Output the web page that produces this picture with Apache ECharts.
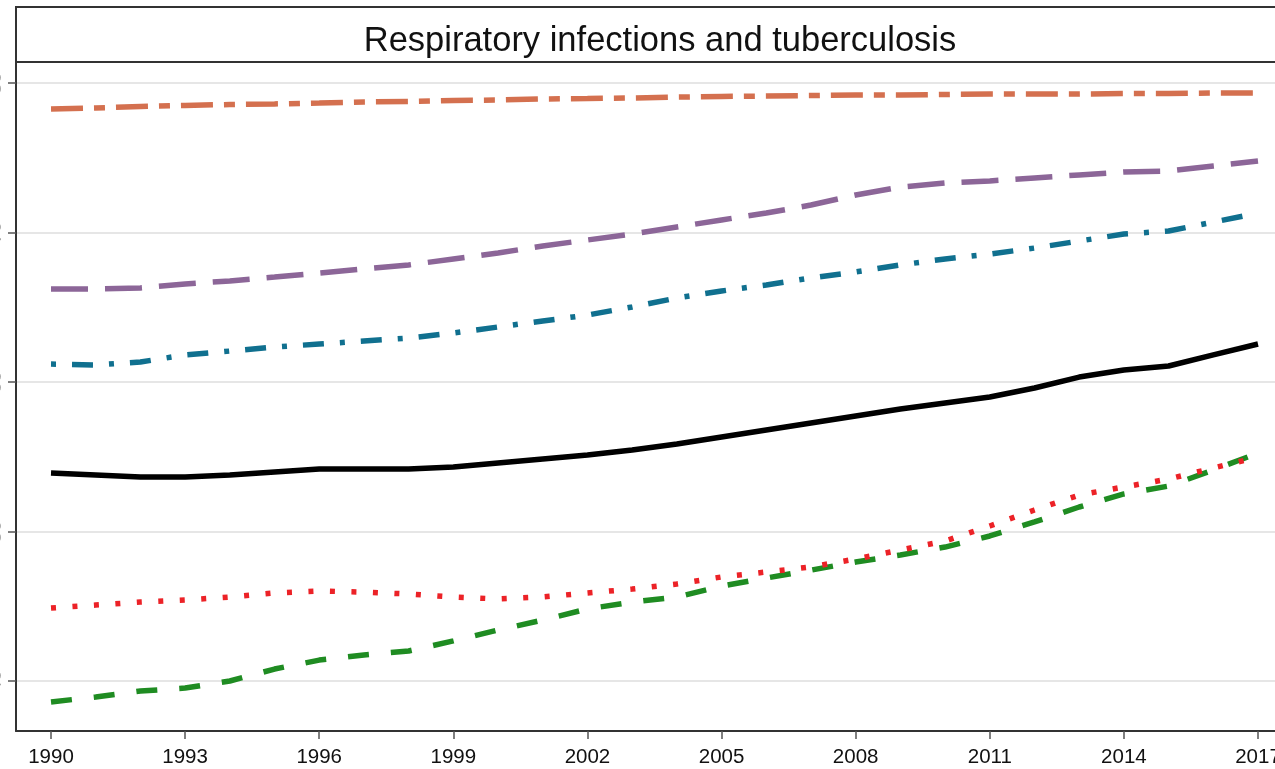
<!DOCTYPE html>
<html>
<head>
<meta charset="utf-8">
<script src="https://cdn.jsdelivr.net/npm/echarts@6/dist/echarts.min.js"></script>
<style>
html,body{margin:0;padding:0;background:#fff;}
#chart{width:1275px;height:769px;}
</style>
</head>
<body>
<div id="chart"></div>
<script>
const titleText = 'Respiratory infections and tuberculosis';
const years = [1990,1991,1992,1993,1994,1995,1996,1997,1998,1999,2000,2001,2002,2003,2004,2005,2006,2007,2008,2009,2010,2011,2012,2013,2014,2015,2016,2017];
const xTickYears = [1990,1993,1996,1999,2002,2005,2008,2011,2014,2017];
const yTickValues = [40,50,60,70,80];

const seriesOrange = [78.26,78.33,78.43,78.50,78.56,78.60,78.66,78.73,78.76,78.83,78.86,78.93,78.96,79.00,79.06,79.10,79.13,79.16,79.20,79.20,79.23,79.26,79.26,79.26,79.30,79.30,79.33,79.33];
const seriesPurple = [66.22,66.22,66.29,66.56,66.76,67.02,67.29,67.56,67.83,68.23,68.63,69.10,69.50,69.90,70.37,70.84,71.30,71.84,72.51,73.04,73.31,73.45,73.65,73.85,74.05,74.11,74.45,74.78];
const seriesTeal = [61.20,61.14,61.34,61.81,62.07,62.34,62.54,62.74,62.94,63.28,63.68,64.08,64.48,65.02,65.62,66.09,66.49,66.96,67.36,67.83,68.23,68.56,68.96,69.43,69.90,70.10,70.70,71.30];
const seriesBlack = [53.91,53.78,53.65,53.65,53.78,53.98,54.18,54.18,54.18,54.31,54.58,54.85,55.12,55.45,55.85,56.32,56.79,57.26,57.73,58.19,58.60,59.00,59.60,60.33,60.80,61.07,61.81,62.54];
const seriesRed = [44.88,45.08,45.28,45.42,45.62,45.89,46.02,45.95,45.82,45.62,45.49,45.62,45.89,46.15,46.49,46.96,47.29,47.63,48.16,48.76,49.36,50.37,51.44,52.44,52.98,53.51,54.25,54.98];
const seriesGreen = [38.60,38.93,39.33,39.53,40.00,40.80,41.40,41.74,42.01,42.68,43.41,44.08,44.82,45.28,45.62,46.35,46.89,47.42,47.96,48.43,48.96,49.70,50.64,51.64,52.51,53.04,54.11,55.25];

const pairs = arr => years.map((y, i) => [y, arr[i]]);

const lineDefs = [
  {name:'A', data: seriesOrange, color:'#d4704f', type:[32,11,11,11]},
  {name:'B', data: seriesPurple, color:'#8c6698', type:[37,17]},
  {name:'C', data: seriesTeal, color:'#10708f', type:[5,16,21,16]},
  {name:'D', data: seriesBlack, color:'#000000', type:'solid'},
  {name:'F', data: seriesGreen, color:'#1f8c22', type:[21,22]},
  {name:'E', data: seriesRed, color:'#ec2227', type:[5,16.5]}
];

const chart = echarts.init(document.getElementById('chart'), null, {renderer:'canvas'});
chart.setOption({
  animation: false,
  backgroundColor: '#ffffff',
  textStyle: {fontFamily: 'Liberation Sans, Arial, sans-serif'},
  title: {
    text: titleText,
    left: 655, top: 36,
    textAlign: 'center', textVerticalAlign: 'middle',
    textStyle: {fontSize: 34.5, fontWeight: 'normal', color: '#111', fontFamily: 'Liberation Sans, Arial, sans-serif'}
  },
  graphic: [{
    type: 'rect', z: 100,
    shape: {x: 16, y: 7, width: 1277, height: 55},
    style: {fill: 'none', stroke: '#333', lineWidth: 2}
  }],
  grid: {left: 16, right: -18, top: 62, bottom: 38, containLabel: false, outerBoundsMode: 'none'},
  xAxis: {
    type: 'value', min: 1989.217, max: 2017.783,
    axisLine: {show: true, onZero: false, lineStyle: {color: '#333', width: 2}},
    axisTick: {show: true, customValues: xTickYears, length: 8, lineStyle: {color: '#555', width: 1.5}},
    axisLabel: {customValues: xTickYears, fontSize: 20.5, color: '#111', margin: 16, formatter: v => String(v)},
    splitLine: {show: false}
  },
  yAxis: {
    type: 'value', min: 36.656, max: 81.405,
    axisLine: {show: true, onZero: false, lineStyle: {color: '#333', width: 2}},
    axisTick: {show: true, customValues: yTickValues, length: 8, lineStyle: {color: '#555', width: 1.5}},
    axisLabel: {customValues: yTickValues, rotate: 90, fontSize: 20, color: '#aaa', margin: 11},
    splitLine: {show: true, lineStyle: {color: '#e6e6e6', width: 2}}
  },
  series: lineDefs.map(d => ({
    name: d.name, type: 'line', data: pairs(d.data),
    showSymbol: false, symbol: 'none',
    lineStyle: {color: d.color, width: 5.5, type: d.type, cap: 'butt'},
    z: 3
  }))
});
</script>
</body>
</html>
